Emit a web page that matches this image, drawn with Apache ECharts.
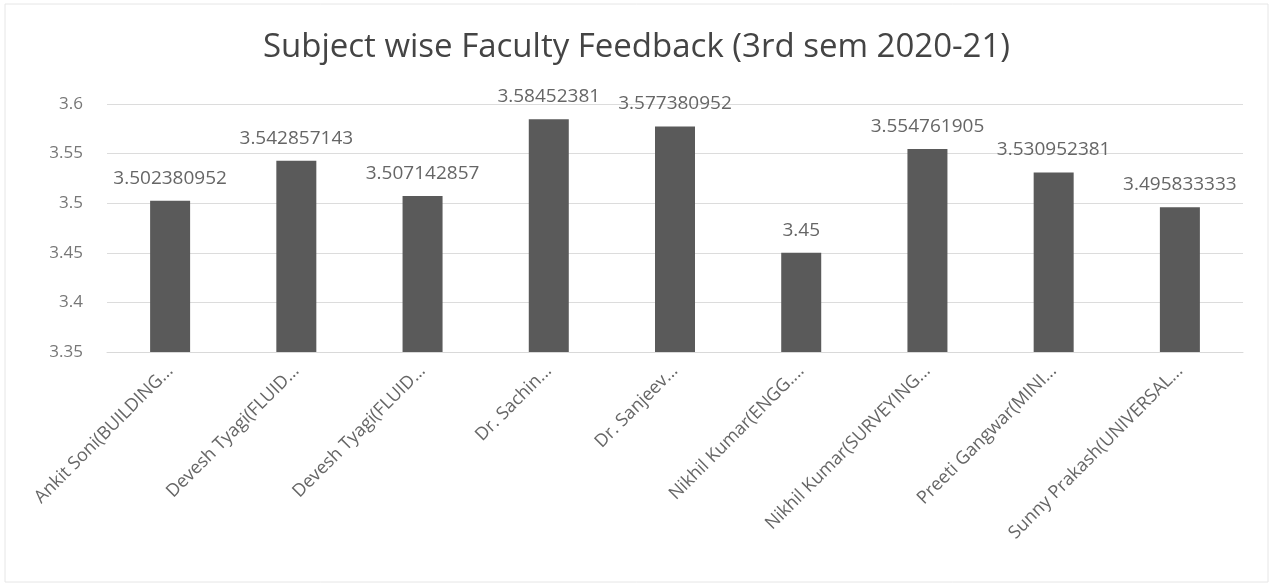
<!DOCTYPE html>
<html>
<head>
<meta charset="utf-8">
<script src="https://cdn.jsdelivr.net/npm/echarts@6/dist/echarts.min.js"></script>
<style>
  html, body { margin: 0; padding: 0; background: #fff; }
  #main { width: 1273px; height: 586px; }
</style>
</head>
<body>
<div id="main"></div>
<script>
var categories = [
  'Ankit Soni(BUILDING...',
  'Devesh Tyagi(FLUID...',
  'Devesh Tyagi(FLUID...',
  'Dr. Sachin...',
  'Dr. Sanjeev...',
  'Nikhil Kumar(ENGG....',
  'Nikhil Kumar(SURVEYING...',
  'Preeti Gangwar(MINI...',
  'Sunny Prakash(UNIVERSAL...'
];
var feedbackValues = [3.502380952, 3.542857143, 3.507142857, 3.58452381, 3.577380952, 3.45, 3.554761905, 3.530952381, 3.495833333];
var valueLabels = ['3.502380952', '3.542857143', '3.507142857', '3.58452381', '3.577380952', '3.45', '3.554761905', '3.530952381', '3.495833333'];

var chart = echarts.init(document.getElementById('main'));

var option = {
  backgroundColor: '#fff',
  animation: false,
  title: {
    text: 'Subject wise Faculty Feedback (3rd sem 2020-21)',
    left: 'center',
    top: 26,
    textStyle: { fontFamily: 'Open Sans', fontSize: 33, fontWeight: 'normal', color: '#444' }
  },
  grid: { left: 107, right: 30, top: 104, bottom: 234 },
  xAxis: {
    type: 'category',
    data: categories,
    axisLine: { lineStyle: { color: '#d9d9d9' } },
    axisTick: { show: false },
    axisLabel: {
      interval: 0,
      rotate: 45,
      margin: 16,
      fontFamily: 'Open Sans',
      fontSize: 18,
      color: '#666'
    }
  },
  yAxis: {
    type: 'value',
    min: 3.35,
    max: 3.6,
    interval: 0.05,
    axisLine: { show: false },
    axisTick: { show: false },
    splitLine: { lineStyle: { color: '#dcdcdc' } },
    axisLabel: {
      fontFamily: 'Open Sans',
      fontSize: 17,
      color: '#777',
      margin: 24,
      formatter: function (v) { return String(Math.round(v * 100) / 100); }
    }
  },
  series: [{
    type: 'bar',
    data: feedbackValues,
    barWidth: 40,
    itemStyle: { color: '#5a5a5a' },
    label: {
      show: true,
      position: 'top',
      distance: 13,
      fontFamily: 'Open Sans',
      fontSize: 19,
      color: '#666',
      formatter: function (p) { return valueLabels[p.dataIndex]; }
    }
  }],
  graphic: [{
    type: 'rect',
    shape: { x: 5, y: 4, width: 1263, height: 578 },
    style: { fill: null, stroke: '#e6e6e6', lineWidth: 1 }
  }]
};

chart.setOption(option);
</script>
</body>
</html>
